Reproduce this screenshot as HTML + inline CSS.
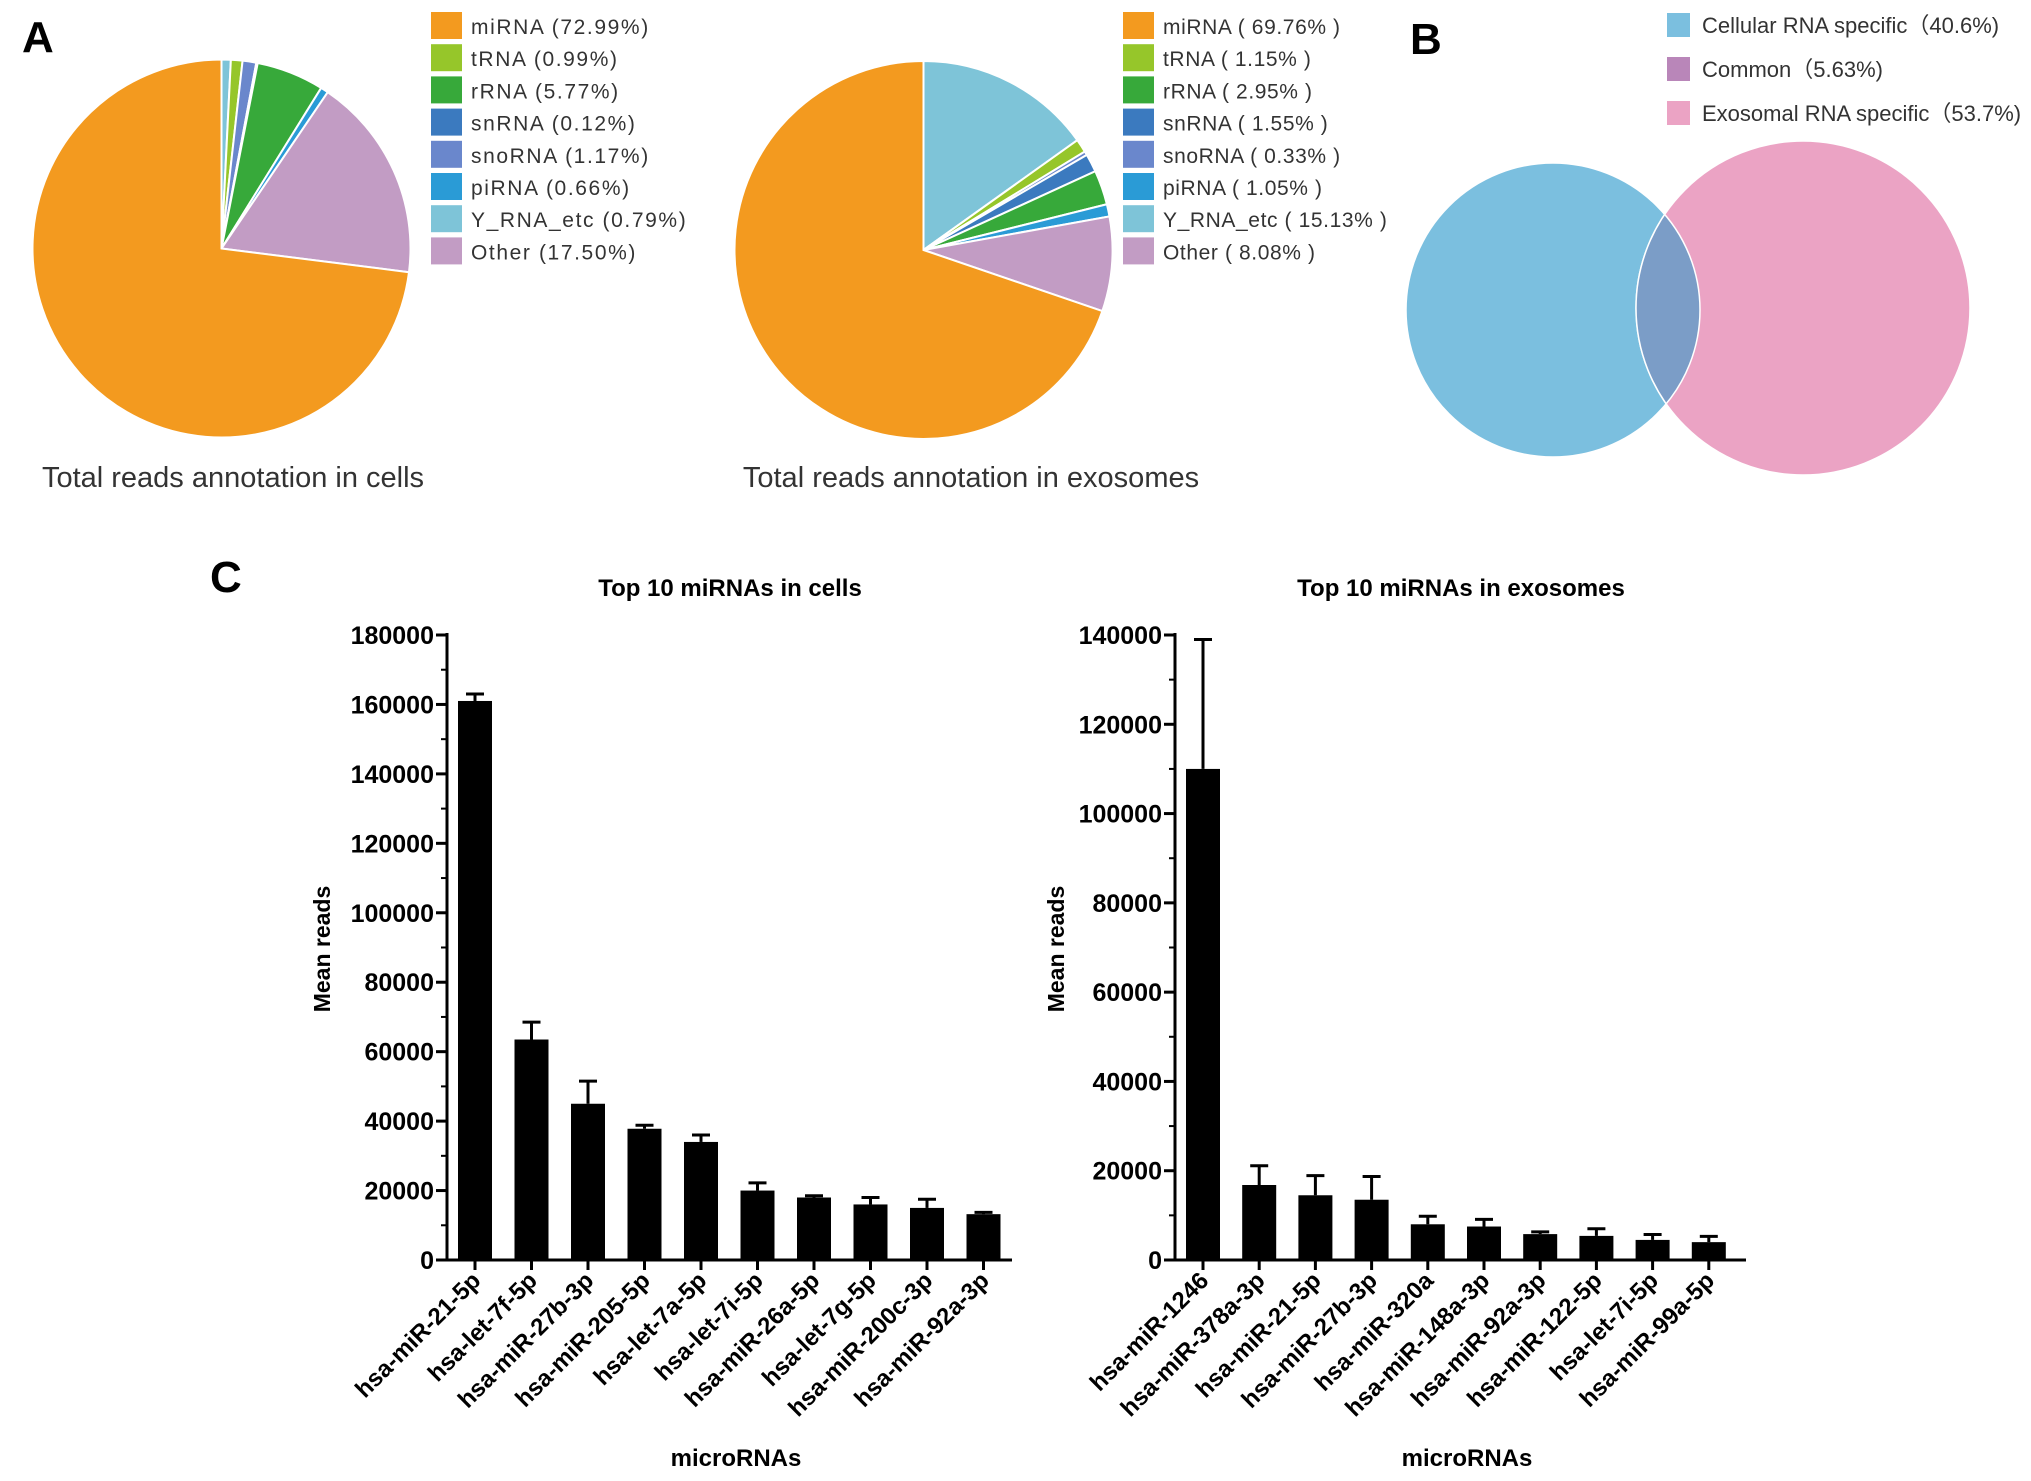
<!DOCTYPE html>
<html><head><meta charset="utf-8">
<style>
html,body{margin:0;padding:0;background:#fff;}
svg{display:block;font-family:"Liberation Sans",Arial,sans-serif;}
</style></head>
<body>
<svg id="fig" width="2031" height="1481" viewBox="0 0 2031 1481" xmlns="http://www.w3.org/2000/svg">
<text x="22" y="52" font-size="44" font-weight="bold">A</text>
<text x="1410" y="54" font-size="44" font-weight="bold">B</text>
<text x="210" y="592" font-size="44" font-weight="bold">C</text>
<g id="pies"></g>
<g id="venn"></g>
<g id="bars"></g>
</svg>
<script>
const NS='http://www.w3.org/2000/svg';
function mk(tag,attrs,parent,txt){const e=document.createElementNS(NS,tag);for(const k in attrs)e.setAttribute(k,attrs[k]);if(txt!==undefined)e.textContent=txt;parent.appendChild(e);return e;}

// ---- Pie data ----
const pieCats=['miRNA','tRNA','rRNA','snRNA','snoRNA','piRNA','Y_RNA_etc','Other'];
const pieColors=['#F39A1F','#96C62A','#37A93A','#3B7ABF','#6A87CC','#2A9BD6','#7EC4D8','#C29CC4'];
const cellPct=[72.99,0.99,5.77,0.12,1.17,0.66,0.79,17.50];
const exoPct=[69.76,1.15,2.95,1.55,0.33,1.05,15.13,8.08];
const cellLabels=['miRNA (72.99%)','tRNA (0.99%)','rRNA (5.77%)','snRNA (0.12%)','snoRNA (1.17%)','piRNA (0.66%)','Y_RNA_etc (0.79%)','Other (17.50%)'];
const exoLabels=['miRNA ( 69.76% )','tRNA ( 1.15% )','rRNA ( 2.95% )','snRNA ( 1.55% )','snoRNA ( 0.33% )','piRNA ( 1.05% )','Y_RNA_etc ( 15.13% )','Other ( 8.08% )'];
const pieOrder=[6,1,4,3,2,5,7,0];

// ---- Venn data ----
const vennLabels=['Cellular RNA  specific（40.6%)','Common（5.63%)','Exosomal RNA specific（53.7%)'];

// ---- Bar data ----
const cellMiRNAs=['hsa-miR-21-5p','hsa-let-7f-5p','hsa-miR-27b-3p','hsa-miR-205-5p','hsa-let-7a-5p','hsa-let-7i-5p','hsa-miR-26a-5p','hsa-let-7g-5p','hsa-miR-200c-3p','hsa-miR-92a-3p'];
const cellMeans=[161000,63500,45000,37800,34000,20000,18000,16000,15000,13200];
const cellErr=[2000,5000,6500,1000,2000,2200,500,2000,2500,500];
const cellTicks=[0,20000,40000,60000,80000,100000,120000,140000,160000,180000];
const exoMiRNAs=['hsa-miR-1246','hsa-miR-378a-3p','hsa-miR-21-5p','hsa-miR-27b-3p','hsa-miR-320a','hsa-miR-148a-3p','hsa-miR-92a-3p','hsa-miR-122-5p','hsa-let-7i-5p','hsa-miR-99a-5p'];
const exoMeans=[110000,16800,14500,13500,8000,7500,5800,5400,4500,4000];
const exoErr=[29000,4300,4400,5200,1800,1600,500,1600,1200,1300];
const exoTicks=[0,20000,40000,60000,80000,100000,120000,140000];

// ---- Pies ----
const pg=document.getElementById('pies');
function drawPie(cx,cy,r,vals,labels,lx,caption,capx,name,ls){
  const g=mk('g',{},pg);
  
  
  const tot=vals.reduce((a,b)=>a+b,0);
  let a0=0;
  pieOrder.forEach(i=>{
    const a1=a0+vals[i]/tot*2*Math.PI;
    const x0=cx+r*Math.sin(a0),y0=cy-r*Math.cos(a0),x1=cx+r*Math.sin(a1),y1=cy-r*Math.cos(a1);
    const large=(a1-a0)>Math.PI?1:0;
    const p=mk('path',{d:`M${cx},${cy}L${x0},${y0}A${r},${r} 0 ${large} 1 ${x1},${y1}Z`,fill:pieColors[i],stroke:'#fff','stroke-width':2},g);
    
    
    a0=a1;
  });
  labels.forEach((t,i)=>{
    const y=26+i*32.2;
    const s=mk('rect',{x:lx,y:y-14,width:31,height:27,fill:pieColors[i]},pg);
    
    
    const tx=mk('text',{x:lx+40,y:y+8,'font-size':21,'letter-spacing':ls,fill:'#333'},pg,t);
    
    
  });
  const c=mk('text',{x:capx,y:487,'font-size':29,fill:'#333','text-anchor':'middle'},pg,caption);
  
  
}
drawPie(221.5,248.5,189,cellPct,cellLabels,431,'Total reads annotation in cells',233,'cells',1.6);
drawPie(923.5,250,189,exoPct,exoLabels,1123,'Total reads annotation in exosomes',971,'exosomes',0.6);

// ---- Venn ----
const vg=document.getElementById('venn');
const vc=['#7BBFDF','#B986B9','#EBA3C4'];
vennLabels.forEach((t,i)=>{
  const y=25+i*44;
  const s=mk('rect',{x:1667,y:y-12,width:23,height:24,fill:vc[i]},vg);
  
  
  const tx=mk('text',{x:1702,y:y+8,'font-size':22,fill:'#333'},vg,t);
  
  
});
const defs=mk('defs',{},vg);
const cp=mk('clipPath',{id:'blueclip'},defs);
mk('circle',{cx:1553,cy:310,r:147},cp);
let e=mk('circle',{cx:1553,cy:310,r:147,fill:'#7BBFDF'},vg);

e=mk('circle',{cx:1803,cy:308,r:167,fill:'#EBA3C4',stroke:'#fff','stroke-width':1.5},vg);

e=mk('circle',{cx:1803,cy:308,r:167,fill:'#7B9DC7',stroke:'#fff','stroke-width':1.5,'clip-path':'url(#blueclip)'},vg);

e=mk('circle',{cx:1553,cy:310,r:147,fill:'none',stroke:'#fff','stroke-width':1.5},vg);

// ---- Bar charts ----
const bg=document.getElementById('bars');
function drawBars(o){
  const g=mk('g',{},bg);
  
  
  const y0=1260,y1=635,ymax=o.ticks[o.ticks.length-1];
  const Y=v=>y0-(v/ymax)*(y0-y1);
  const X=i=>o.ax+28+i*o.step;
  mk('line',{x1:o.ax,y1:y1-2,x2:o.ax,y2:y0+1.5,stroke:'#000','stroke-width':3},g);
  mk('line',{x1:o.ax-1.5,y1:y0,x2:o.xend,y2:y0,stroke:'#000','stroke-width':3},g);
  for(let k=0;k<o.ticks.length;k++){
    const v=o.ticks[k];
    mk('line',{x1:o.ax-11,y1:Y(v),x2:o.ax,y2:Y(v),stroke:'#000','stroke-width':3},g);
    const t=mk('text',{x:o.ax-13,y:Y(v)+9,'font-size':25,'font-weight':'bold','text-anchor':'end'},g,String(v));
    
    
    if(k<o.ticks.length-1){const m=(v+o.ticks[k+1])/2;mk('line',{x1:o.ax-6,y1:Y(m),x2:o.ax,y2:Y(m),stroke:'#000','stroke-width':2},g);}
  }
  o.means.forEach((v,i)=>{
    const cx=X(i),bw=34;
    const top=Y(v+o.err[i]);
    mk('line',{x1:cx,y1:Y(v),x2:cx,y2:top,stroke:'#000','stroke-width':3},g);
    mk('line',{x1:cx-9,y1:top,x2:cx+9,y2:top,stroke:'#000','stroke-width':3},g);
    const r=mk('rect',{x:cx-bw/2,y:Y(v),width:bw,height:y0-Y(v),fill:'#000'},g);
    
    
    mk('line',{x1:cx,y1:y0,x2:cx,y2:y0+10,stroke:'#000','stroke-width':3},g);
    const t=mk('text',{x:cx+7,y:y0+22,'font-size':24,'font-weight':'bold','text-anchor':'end',transform:`rotate(-45 ${cx+7} ${y0+22})`},g,o.cats[i]);
    
    
  });
  let t=mk('text',{x:o.tx,y:596,'font-size':24,'font-weight':'bold','text-anchor':'middle'},g,o.title);
  
  t=mk('text',{x:o.ylx,y:949,'font-size':23,'font-weight':'bold','text-anchor':'middle',transform:`rotate(-90 ${o.ylx} 949)`},g,'Mean reads');
  
  t=mk('text',{x:o.tx+6,y:1466,'font-size':24,'font-weight':'bold','text-anchor':'middle'},g,'microRNAs');
  
}
drawBars({name:'cells',ax:447,xend:1012,step:56.5,cats:cellMiRNAs,means:cellMeans,err:cellErr,ticks:cellTicks,title:'Top 10 miRNAs in cells',tx:730,ylx:330});
drawBars({name:'exosomes',ax:1175,xend:1746,step:56.2,cats:exoMiRNAs,means:exoMeans,err:exoErr,ticks:exoTicks,title:'Top 10 miRNAs in exosomes',tx:1461,ylx:1064});
</script>
</body></html>
